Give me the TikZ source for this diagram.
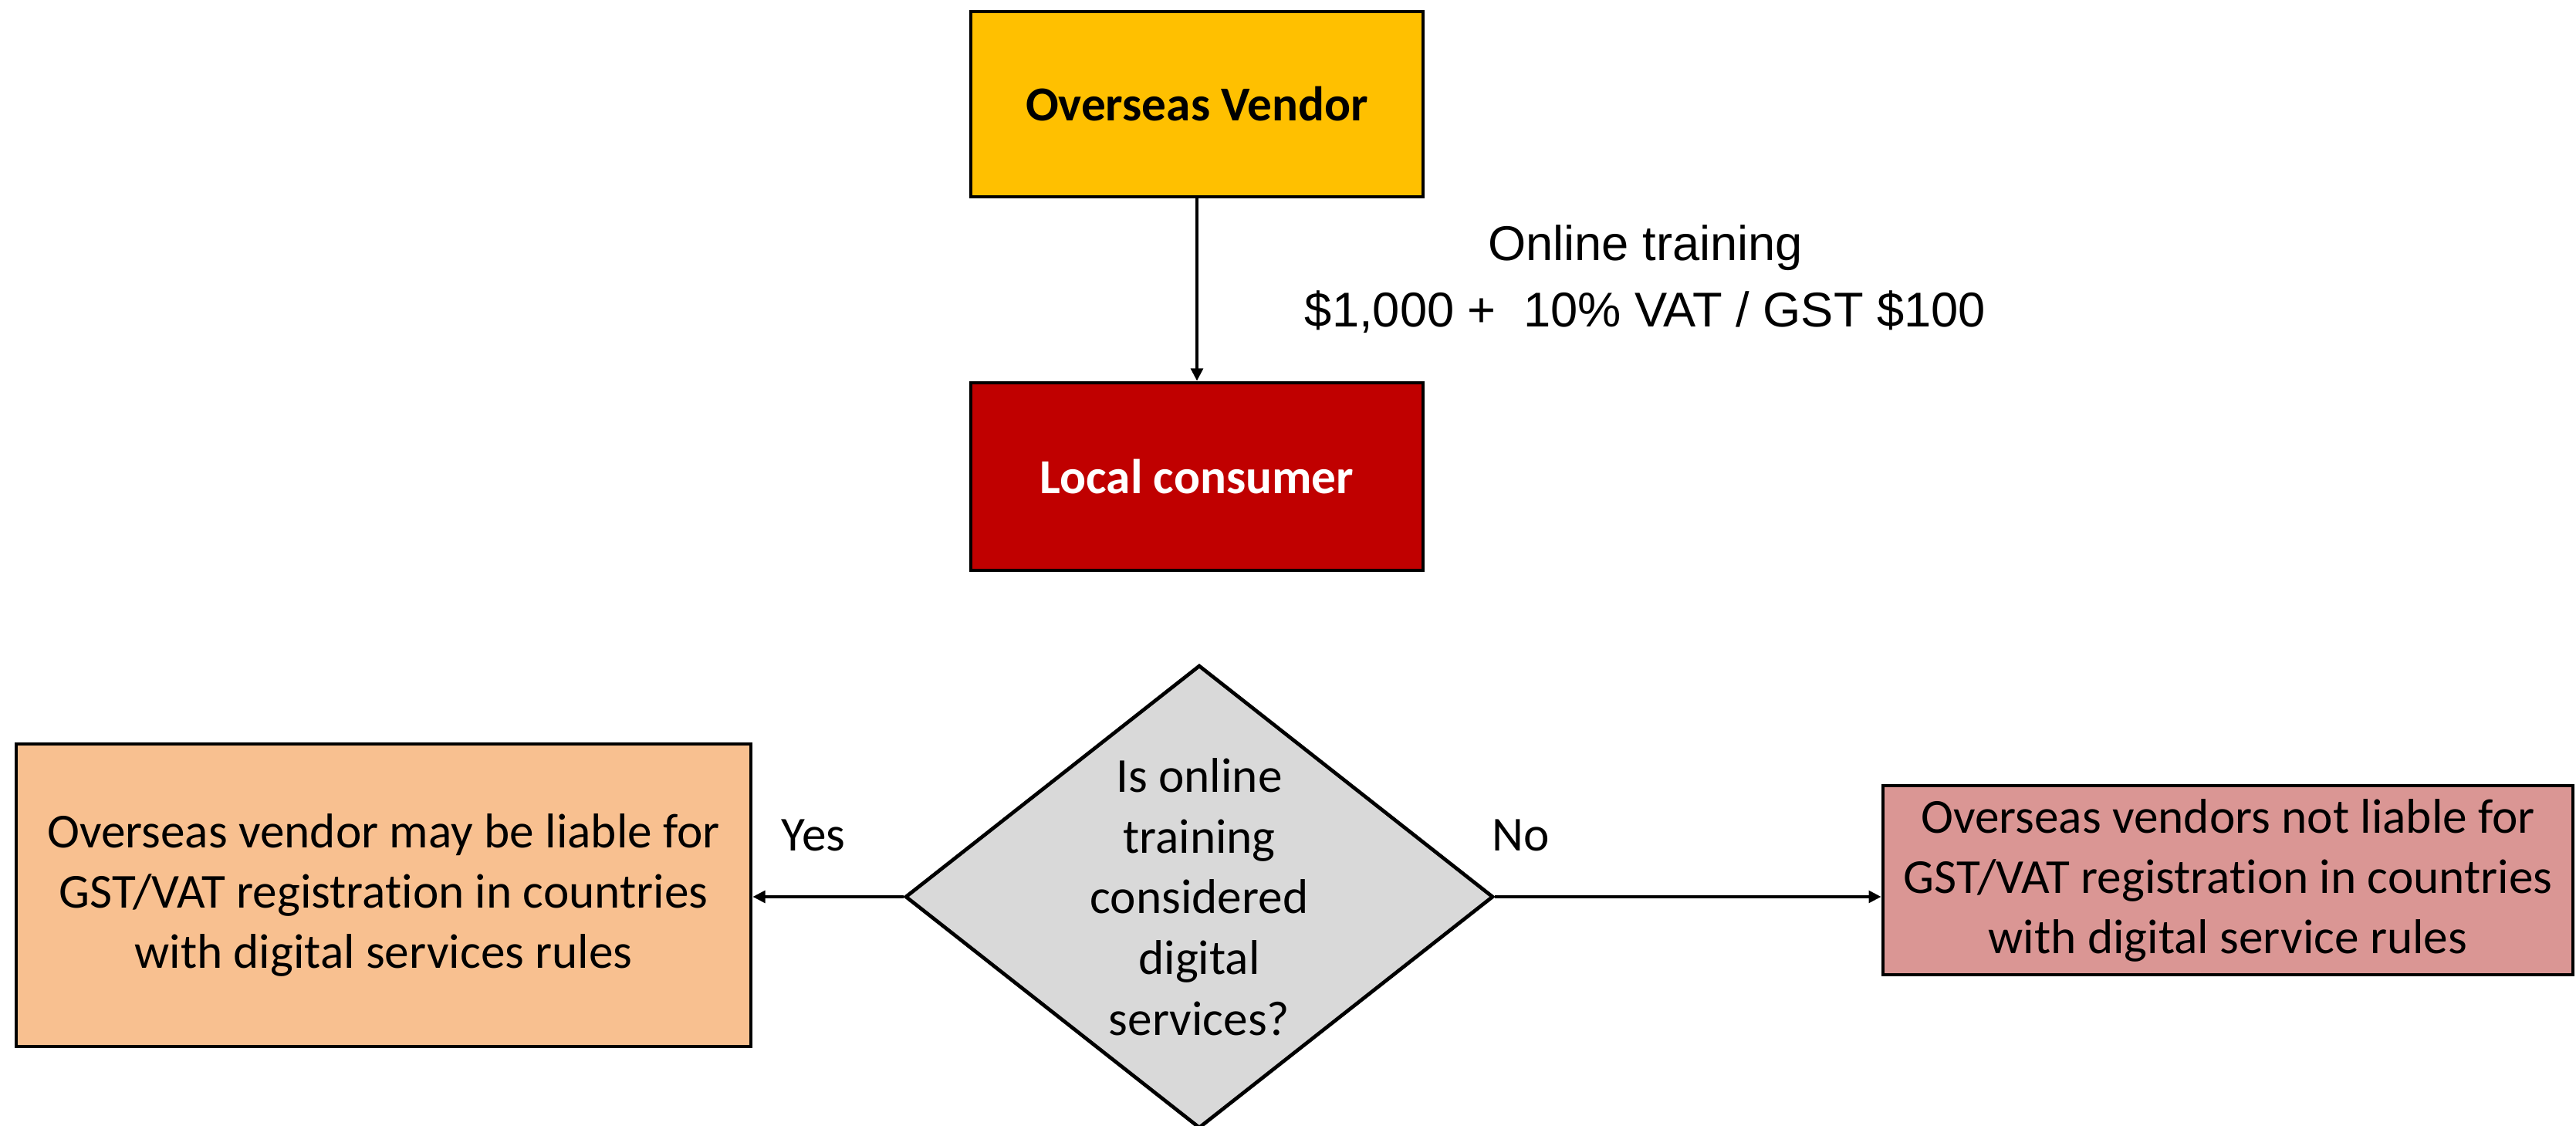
\documentclass[tikz,border=0pt]{standalone}
\usepackage{fontspec}
\setmainfont{Carlito}[Ligatures=NoCommon]
\newfontfamily\arialfont{Liberation Sans}
\usetikzlibrary{arrows.meta,shapes.geometric}
\definecolor{vendorgold}{HTML}{FFC000}
\definecolor{consumerred}{HTML}{C00000}
\definecolor{yespeach}{HTML}{F8C090}
\definecolor{norose}{HTML}{DA9694}
\definecolor{querygrey}{HTML}{D9D9D9}
\tikzset{
  flowbox/.style={draw=black, line width=1.35pt, rectangle, align=center, inner sep=0pt,
    font=\fontsize{18}{22.2}\selectfont},
  query/.style={draw=black, line width=1.35pt, diamond, aspect=1.27, inner sep=0pt,
    fill=querygrey, align=center, minimum width=7.62cm, minimum height=6.0cm,
    font=\fontsize{18}{22.4}\selectfont},
  farrow/.style={-{Triangle[length=4.6pt,width=4.4pt]}, line width=1.3pt}
}
\begin{document}
\begin{tikzpicture}[x=1cm, y=1cm]
    \useasboundingbox (0,0) rectangle (33.38,14.58);
    \node[flowbox, fill=vendorgold, minimum width=5.86cm, minimum height=2.40cm, font=\fontsize{18}{22}\selectfont\bfseries]
      (vendor) at (15.51,13.23) {Overseas Vendor};
    \node[flowbox, fill=consumerred, text=white, minimum width=5.86cm, minimum height=2.43cm, font=\fontsize{18}{22}\selectfont\bfseries]
      (consumer) at (15.51,8.405) {Local consumer};
    \node[align=center, font=\arialfont\fontsize{18}{24.5}\selectfont] (price) at (21.32,10.96)
      {Online training\\\$1,000 +\ \ 10\% VAT / GST \$100};
    \draw[farrow] (vendor) -- (consumer);

    % the question and its two outcomes
    \node[query] (digital) at (15.54,2.96) {Is online\\training\\considered\\digital\\services?};
    \node[flowbox, fill=yespeach, minimum width=9.52cm, minimum height=3.92cm] (liable) at (4.97,2.98)
      {Overseas vendor may be liable for\\GST/VAT registration in countries\\with digital services rules};
    \node[flowbox, fill=norose, minimum width=8.94cm, minimum height=2.45cm] (notliable) at (28.87,3.175)
      {Overseas vendors not liable for\\GST/VAT registration in countries\\with digital service rules};
    \draw[farrow] (digital.west) -- (digital.west -| liable.east);
    \draw[farrow] (digital.east) -- (digital.east -| notliable.west);
    \node[font=\fontsize{18}{22}\selectfont] (yes) at (10.54,3.76) {Yes};
    \node[font=\fontsize{18}{22}\selectfont] (no) at (19.71,3.76) {No};
  \end{tikzpicture}
\end{document}
